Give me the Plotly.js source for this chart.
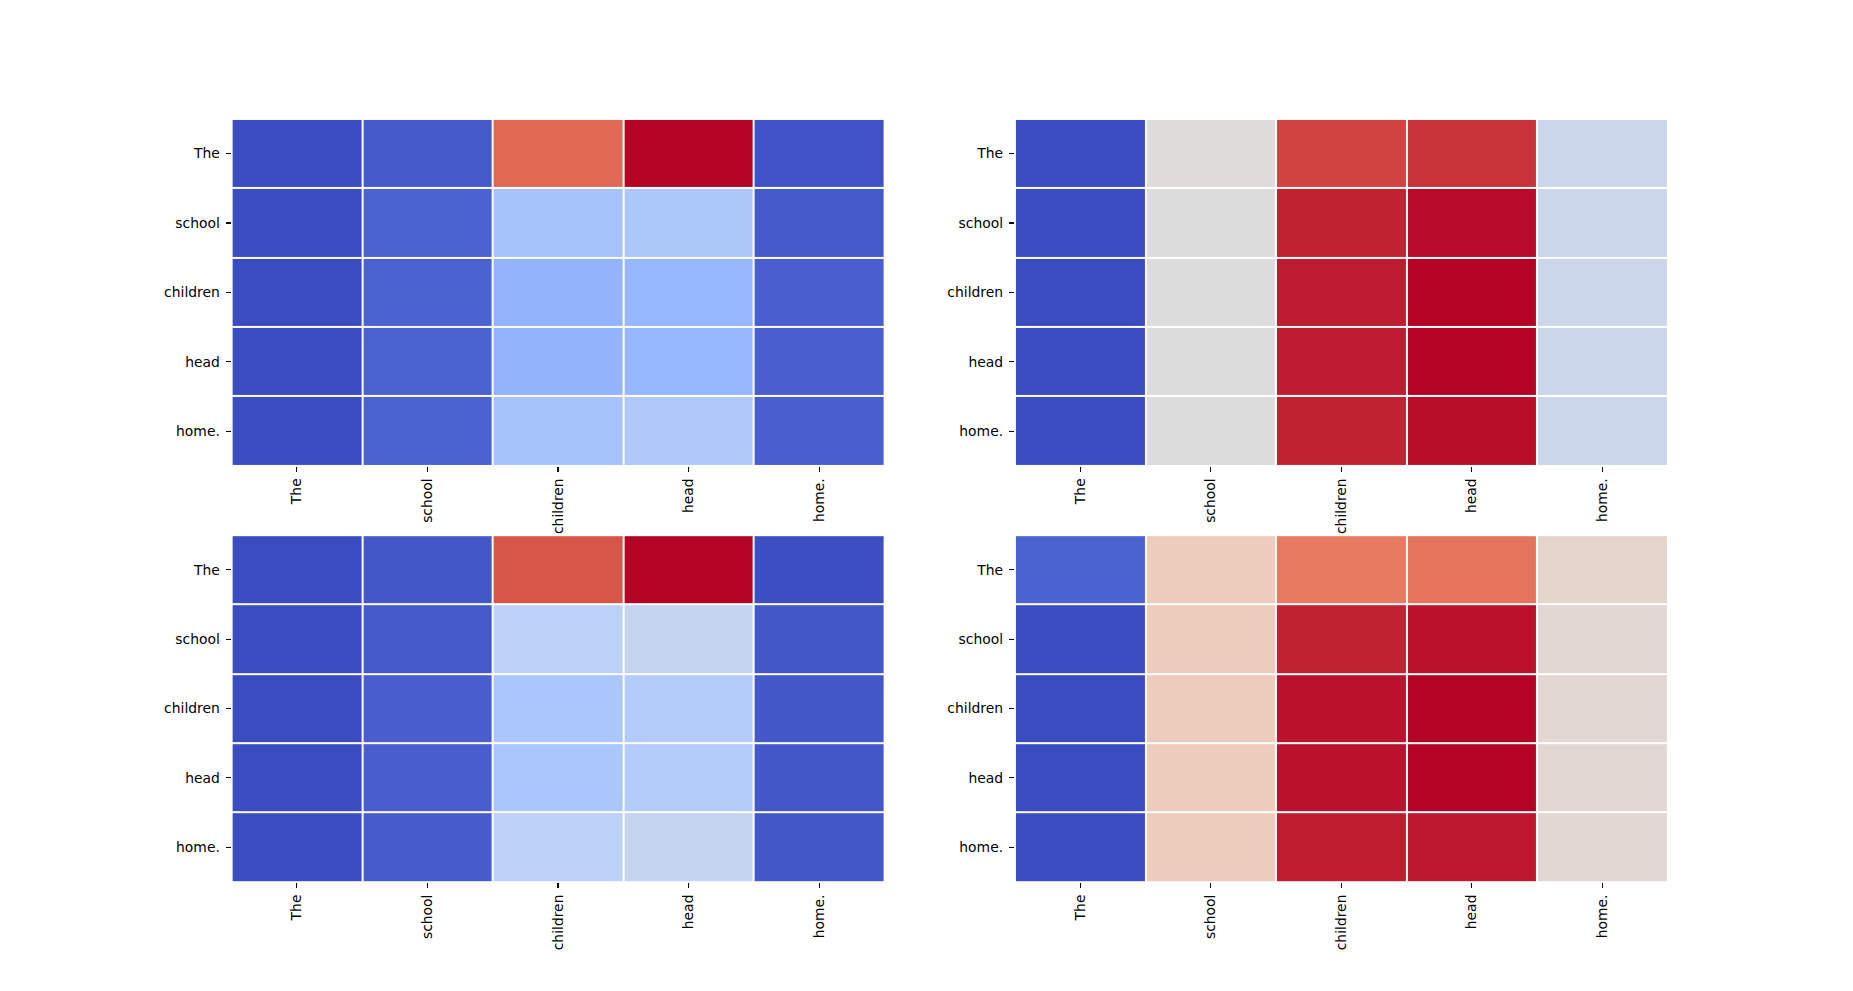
<!DOCTYPE html>
<html>
<head>
<meta charset="utf-8">
<script src="https://cdn.plot.ly/plotly-3.0.1.min.js"></script>
<style>html,body{margin:0;padding:0;background:#fff;}#chart{width:1853px;height:991px;}</style>
</head>
<body>
<div id="chart"></div>
<script>
// Token labels (rows and columns)
const tokens = ['The', 'school', 'children', 'head', 'home.'];

// Normalised attention values (0 = min, 1 = max of each panel)
const topLeft = [
  [0.00, 0.03, 0.857, 1.00, 0.015],
  [0.00, 0.05, 0.325, 0.34, 0.03],
  [0.00, 0.05, 0.267, 0.283, 0.045],
  [0.00, 0.05, 0.267, 0.283, 0.045],
  [0.00, 0.05, 0.325, 0.345, 0.045]
];
const topRight = [
  [0.00, 0.505, 0.915, 0.938, 0.44],
  [0.00, 0.50, 0.96, 0.99, 0.44],
  [0.00, 0.50, 0.968, 1.00, 0.44],
  [0.00, 0.50, 0.968, 1.00, 0.44],
  [0.00, 0.50, 0.96, 0.987, 0.44]
];
const bottomLeft = [
  [0.00, 0.025, 0.89, 1.00, 0.005],
  [0.00, 0.03, 0.39, 0.415, 0.025],
  [0.00, 0.042, 0.337, 0.36, 0.025],
  [0.00, 0.042, 0.337, 0.36, 0.025],
  [0.00, 0.035, 0.39, 0.415, 0.025]
];
const bottomRight = [
  [0.05, 0.585, 0.82, 0.833, 0.543],
  [0.00, 0.585, 0.96, 0.982, 0.524],
  [0.00, 0.585, 0.982, 1.00, 0.524],
  [0.00, 0.585, 0.982, 1.00, 0.524],
  [0.00, 0.585, 0.965, 0.975, 0.524]
];

// matplotlib "coolwarm" approximation
const coolwarm = [
  [0.0, 'rgb(59,76,192)'],
  [0.125, 'rgb(98,130,234)'],
  [0.25, 'rgb(141,176,254)'],
  [0.375, 'rgb(184,208,249)'],
  [0.5, 'rgb(221,220,220)'],
  [0.625, 'rgb(245,196,173)'],
  [0.75, 'rgb(244,154,123)'],
  [0.875, 'rgb(221,97,77)'],
  [1.0, 'rgb(180,4,38)']
];

const panels = [topLeft, topRight, bottomLeft, bottomRight];
const axisIds = [['x', 'y'], ['x2', 'y2'], ['x3', 'y3'], ['x4', 'y4']];

const data = panels.map((z, i) => ({
  type: 'heatmap',
  z: z,
  x: tokens,
  y: tokens,
  xaxis: axisIds[i][0],
  yaxis: axisIds[i][1],
  colorscale: coolwarm,
  zmin: 0,
  zmax: 1,
  showscale: false,
  xgap: 2,
  ygap: 2,
  hoverinfo: 'skip'
}));

const font = {family: 'DejaVu Sans', size: 13.9, color: '#000'};
function xax(domain, anchor) {
  return {
    domain: domain, anchor: anchor, type: 'category',
    showgrid: false, zeroline: false, showline: false,
    ticks: 'outside', ticklen: 5, tickwidth: 1.1, tickcolor: '#000',
    ticklabelstandoff: 1,
    tickangle: -90, tickfont: font, fixedrange: true
  };
}
function yax(domain, anchor) {
  return {
    domain: domain, anchor: anchor, type: 'category', autorange: 'reversed',
    showgrid: false, zeroline: false, showline: false,
    ticks: 'outside', ticklen: 5, tickwidth: 1.1, tickcolor: '#000',
    ticklabelstandoff: 3,
    tickfont: font, fixedrange: true
  };
}

const xL = [0.125, 0.4773], xR = [0.5477, 0.9];
const yT = [0.53, 0.88], yB = [0.11, 0.46];

const layout = {
  width: 1853, height: 991,
  margin: {l: 0, r: 0, t: 0, b: 0},
  paper_bgcolor: '#fff', plot_bgcolor: '#fff',
  showlegend: false,
  font: font,
  xaxis: xax(xL, 'y'), yaxis: yax(yT, 'x'),
  xaxis2: xax(xR, 'y2'), yaxis2: yax(yT, 'x2'),
  xaxis3: xax(xL, 'y3'), yaxis3: yax(yB, 'x3'),
  xaxis4: xax(xR, 'y4'), yaxis4: yax(yB, 'x4')
};

Plotly.newPlot('chart', data, layout, {displayModeBar: false, staticPlot: true});
</script>
</body>
</html>
